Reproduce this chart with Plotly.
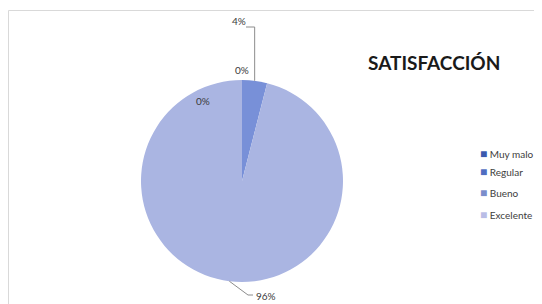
import math
import plotly.graph_objects as go

categories = ["Muy malo", "Regular", "Bueno", "Excelente"]
values = [0, 0, 4, 96]
colors = ["#3D5DB3", "#5676CB", "#7890D8", "#AAB5E2"]
legend_colors = ["#3B5AAE", "#4F6DC0", "#7A8DCB", "#B9BDE6"]
title_text = "SATISFACCIÓN"

# page body has an 8px margin; work in reference pixel coords
OFF = 8
W, H = 542 - OFF, 304 - OFF
cx, cy, r = 242, 181, 101  # pie geometry in reference px


def px(x):
    return (x - OFF) / W


def py(y):
    return 1 - (y - OFF) / H


fig = go.Figure(go.Pie(
    labels=categories, values=values, sort=False, direction="clockwise",
    rotation=0, textinfo="none", hoverinfo="label+percent",
    marker=dict(colors=colors, line=dict(width=0)),
    domain=dict(x=[px(cx - r), px(cx + r)], y=[py(cy + r), py(cy - r)]),
    showlegend=False,
))

total = sum(values)
pct = [round(v / total * 100) for v in values]

cum = 0
mids = []
for v in values:
    mids.append((cum + v / 2) / total * 2 * math.pi)
    cum += v

shapes = [dict(type="rect", xref="paper", yref="paper", x0=px(8.5), x1=px(600),
               y0=py(400), y1=py(10.5), line=dict(color="#D9D9D9", width=1),
               fillcolor="rgba(0,0,0,0)", layer="below")]

a = mids[2]
ex, ey = cx + r * math.sin(a), cy - r * math.cos(a)
shapes.append(dict(type="path", xref="paper", yref="paper",
                   path=f"M {px(ex)} {py(ey)} L {px(ex)} {py(27)} L {px(246)} {py(27)}",
                   line=dict(color="#8C8C8C", width=1)))
a = mids[3]
ex, ey = cx + r * math.sin(a), cy - r * math.cos(a)
shapes.append(dict(type="path", xref="paper", yref="paper",
                   path=f"M {px(ex)} {py(ey)} L {px(248)} {py(295)} L {px(253)} {py(295)}",
                   line=dict(color="#8C8C8C", width=1)))

label_pos = [(203, 101), (242, 70), (239, 21), (266, 296)]
annotations = []
for (lx, ly), p in zip(label_pos, pct):
    annotations.append(dict(x=px(lx), y=py(ly), xref="paper", yref="paper",
                            text=f"{p}%", showarrow=False, xanchor="center", yanchor="middle",
                            font=dict(size=10, color="#3A3A3A", family="Lato")))
annotations.append(dict(x=px(434), y=py(63), xref="paper", yref="paper",
                        text=f"<b>{title_text}</b>", showarrow=False,
                        xanchor="center", yanchor="middle",
                        font=dict(size=19, color="#1A1A1A", family="Lato")))

legend_y = [153, 171, 192, 214]
for name, col, ly in zip(categories, legend_colors, legend_y):
    annotations.append(dict(x=px(478), y=py(ly), xref="paper", yref="paper",
                            text=f'<span style="color:{col};font-size:12px">■</span> {name}',
                            showarrow=False, xanchor="left", yanchor="middle",
                            font=dict(size=10, color="#404040", family="Lato")))

fig.update_layout(
    width=W, height=H, margin=dict(l=0, r=0, t=0, b=0),
    paper_bgcolor="white", plot_bgcolor="white",
    shapes=shapes, annotations=annotations, showlegend=False,
)

fig.write_html("out.html")
